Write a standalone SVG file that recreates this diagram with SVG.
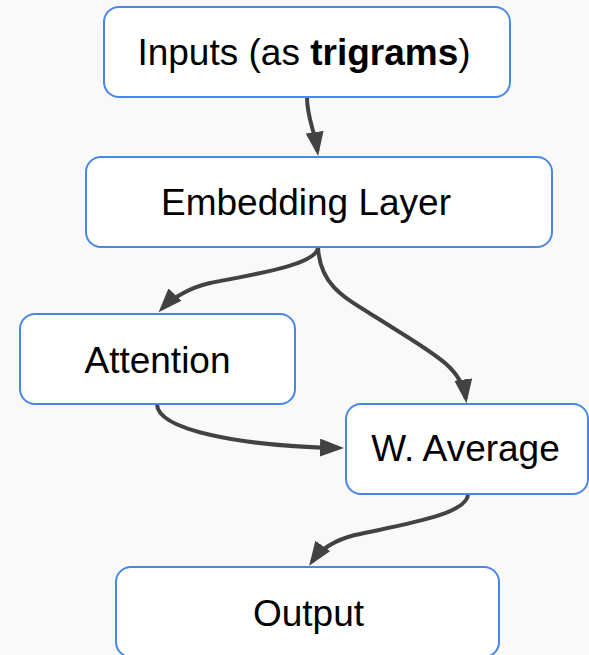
<svg xmlns="http://www.w3.org/2000/svg" width="589" height="655" viewBox="0 0 589 655">
  <style>
    .box { fill: #ffffff; stroke: #4a86e8; stroke-width: 2; }
    .lbl { font-family: "Liberation Sans", Arial, sans-serif; font-size: 37px; fill: #000000; text-anchor: middle; }
    .edge { fill: none; stroke: #424242; stroke-width: 4; }
  </style>
  <defs>
    <marker id="arrow" markerUnits="userSpaceOnUse" markerWidth="26" markerHeight="20" refX="19" refY="9" orient="auto" viewBox="0 0 26 20">
      <path d="M0,0 L24,9 L0,18 Z" fill="#424242"/>
    </marker>
  </defs>
  <rect x="0" y="0" width="589" height="655" fill="#f9f9f9"/>

  <g id="connectors">
    <path class="edge" marker-end="url(#arrow)" d="M307,97 C307,118 314,128 317.4,151"/>
    <path class="edge" marker-end="url(#arrow)" d="M318,247 C318,265 250,275 210,283 C188,288 170,300 162,308.5"/>
    <path class="edge" marker-end="url(#arrow)" d="M318,247 C320,290 350,300 390,326 C440,357 462,370 465.8,398.4"/>
    <path class="edge" marker-end="url(#arrow)" d="M157,404 C157,430 240,446 339,448"/>
    <path class="edge" marker-end="url(#arrow)" d="M468,494 C468,515 400,525 355,535 C335,540 320,550 312,561.6"/>
  </g>

  <g id="inputs">
    <rect class="box" x="104" y="7" width="406" height="90" rx="15" ry="15"/>
    <text class="lbl" x="304" y="65">Inputs (as <tspan font-weight="bold">trigrams</tspan>)</text>
  </g>
  <g id="embedding">
    <rect class="box" x="86" y="157" width="466" height="90" rx="15" ry="15"/>
    <text class="lbl" x="306" y="215">Embedding Layer</text>
  </g>
  <g id="attention">
    <rect class="box" x="20" y="314" width="275" height="90" rx="15" ry="15"/>
    <text class="lbl" x="157.5" y="373">Attention</text>
  </g>
  <g id="waverage">
    <rect class="box" x="346" y="404" width="242" height="90" rx="15" ry="15"/>
    <text class="lbl" x="465.5" y="461">W. Average</text>
  </g>
  <g id="output">
    <rect class="box" x="116" y="567" width="383" height="90" rx="15" ry="15"/>
    <text class="lbl" x="308.5" y="626">Output</text>
  </g>
</svg>
